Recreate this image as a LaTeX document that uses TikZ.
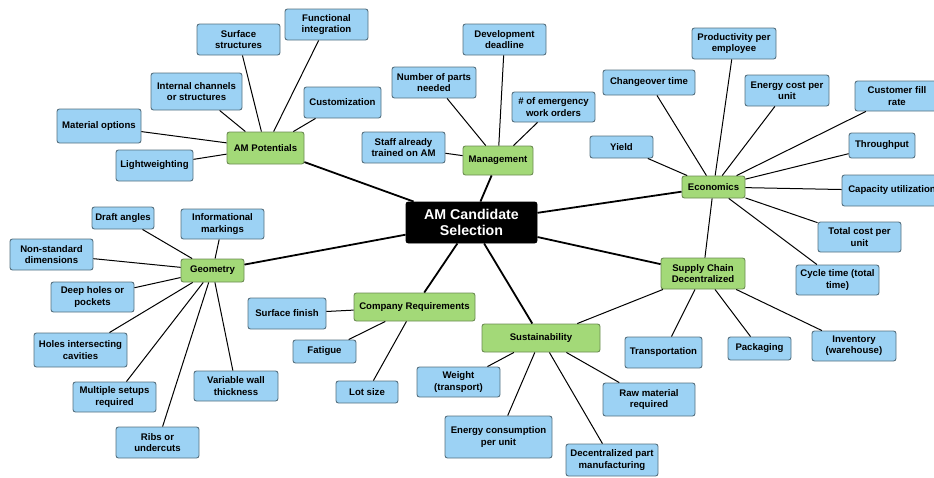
\documentclass[tikz,border=0pt]{standalone}
\usepackage{fontspec}
\setmainfont{Liberation Sans}
\definecolor{leaffill}{HTML}{9CD2F4}
\definecolor{leafdraw}{HTML}{55707F}
\definecolor{catfill}{HTML}{A3D978}
\definecolor{catdraw}{HTML}{6C8C52}
\begin{document}
\begin{tikzpicture}[x=1pt,y=-1pt,
  box/.style={rounded corners=2.5pt,line width=0.9pt,align=center,inner sep=0pt,
    font=\bfseries\fontsize{9.6}{11.3}\selectfont},
  leaf/.style={box,fill=leaffill,draw=leafdraw},
  cat/.style={box,fill=catfill,draw=catdraw},
  root/.style={box,fill=black,draw=black,text=white,font=\bfseries\fontsize{14.2}{15.7}\selectfont},
  sz/.style 2 args={minimum width=#1pt,minimum height=#2pt},
  thin/.style={line width=1pt},
  thick main/.style={line width=1.8pt}]
\useasboundingbox (0,0) rectangle (934,477);

% root
\node[root,sz={131}{41}] (root) at (471.5,222.5) {AM Candidate\\Selection};

% categories
\node[cat,sz={77}{32}] (amp) at (265.5,148) {AM Potentials};
\node[cat,sz={70}{29}] (mgmt) at (498,160.5) {Management};
\node[cat,sz={63}{22}] (econ) at (713.5,187) {Economics};
\node[cat,sz={84}{31}] (scd) at (703,273.5) {Supply Chain\\Decentralized};
\node[cat,sz={63}{23}] (geom) at (212.5,270.5) {Geometry};
\node[cat,sz={121}{28}] (creq) at (414.5,307) {Company Requirements};
\node[cat,sz={118}{28}] (sust) at (541,338) {Sustainability};

% AM potentials leaves
\node[leaf,sz={83}{31}] (surf) at (238.5,39.5) {Surface\\structures};
\node[leaf,sz={83}{31}] (func) at (326.5,24.5) {Functional\\integration};
\node[leaf,sz={91}{37}] (intch) at (196.5,91.5) {Internal channels\\or structures};
\node[leaf,sz={77}{31}] (cust) at (342.5,102.5) {Customization};
\node[leaf,sz={84}{34}] (mat) at (99,126) {Material options};
\node[leaf,sz={77}{31}] (light) at (154.5,165.5) {Lightweighting};

% Management leaves
\node[leaf,sz={83}{31}] (dev) at (504.5,39.5) {Development\\deadline};
\node[leaf,sz={84}{31}] (nparts) at (434,82.5) {Number of parts\\needed};
\node[leaf,sz={83}{30}] (emerg) at (553.5,107) {\# of emergency\\work orders};
\node[leaf,sz={83}{31}] (staff) at (403.5,147.5) {Staff already\\trained on AM};

% Economics leaves
\node[leaf,sz={84}{31}] (prod) at (734,43.5) {Productivity per\\employee};
\node[leaf,sz={92}{25}] (chg) at (649,82.5) {Changeover time};
\node[leaf,sz={84}{31}] (ecost) at (787,90.5) {Energy cost per\\unit};
\node[leaf,sz={84}{30}] (cfr) at (897,96) {Customer fill\\rate};
\node[leaf,sz={63}{22}] (yield) at (621.5,147) {Yield};
\node[leaf,sz={66}{25}] (thru) at (882,145.5) {Throughput};
\node[leaf,sz={100}{31}] (cap) at (892,190.5) {Capacity utilization};
\node[leaf,sz={83}{30}] (tcost) at (859.5,237) {Total cost per\\unit};
\node[leaf,sz={83}{30}] (cycle) at (837.5,280) {Cycle time (total\\time)};

% Geometry leaves
\node[leaf,sz={62}{22}] (draft) at (123,218) {Draft angles};
\node[leaf,sz={83}{30}] (info) at (222.5,224) {Informational\\markings};
\node[leaf,sz={83}{31}] (nonstd) at (51.5,254.5) {Non-standard\\dimensions};
\node[leaf,sz={83}{30}] (deep) at (92.5,297) {Deep holes or\\pockets};
\node[leaf,sz={93}{34}] (holes) at (80.5,350) {Holes intersecting\\cavities};
\node[leaf,sz={83}{30}] (mult) at (114.5,397) {Multiple setups\\required};
\node[leaf,sz={84}{30}] (varw) at (236,386) {Variable wall\\thickness};
\node[leaf,sz={83}{31}] (ribs) at (157.5,442.5) {Ribs or\\undercuts};

% Company requirement leaves
\node[leaf,sz={78}{31}] (sfin) at (287,313.5) {Surface finish};
\node[leaf,sz={63}{23}] (fat) at (324.5,351.5) {Fatigue};
\node[leaf,sz={62}{22}] (lot) at (367,392) {Lot size};

% Sustainability leaves
\node[leaf,sz={83}{30}] (wt) at (458.5,382) {Weight\\(transport)};
\node[leaf,sz={107}{42}] (econs) at (498.5,437) {Energy consumption\\per unit};
\node[leaf,sz={92}{32}] (decp) at (612,460) {Decentralized part\\manufacturing};
\node[leaf,sz={92}{33}] (raw) at (649,399.5) {Raw material\\required};

% Supply chain leaves
\node[leaf,sz={77}{31}] (trans) at (663.5,352.5) {Transportation};
\node[leaf,sz={63}{23}] (pack) at (759.5,348.5) {Packaging};
\node[leaf,sz={84}{30}] (inv) at (854,346) {Inventory\\(warehouse)};

% main connectors
\foreach \c in {amp,mgmt,econ,scd,sust,creq,geom}
  \draw[thick main] (root) -- (\c);

% leaf connectors
\foreach \l in {surf,func,intch,cust,mat,light}
  \draw[thin] (amp) -- (\l);
\foreach \l in {dev,nparts,emerg,staff}
  \draw[thin] (mgmt) -- (\l);
\foreach \l in {prod,chg,ecost,cfr,yield,thru,cap,tcost,cycle,scd}
  \draw[thin] (econ) -- (\l);
\foreach \l in {draft,info,nonstd,deep,holes,mult,varw,ribs}
  \draw[thin] (geom) -- (\l);
\foreach \l in {sfin,fat,lot}
  \draw[thin] (creq) -- (\l);
\foreach \l in {wt,econs,decp,raw,scd}
  \draw[thin] (sust) -- (\l);
\foreach \l in {trans,pack,inv}
  \draw[thin] (scd) -- (\l);
\end{tikzpicture}
\end{document}
